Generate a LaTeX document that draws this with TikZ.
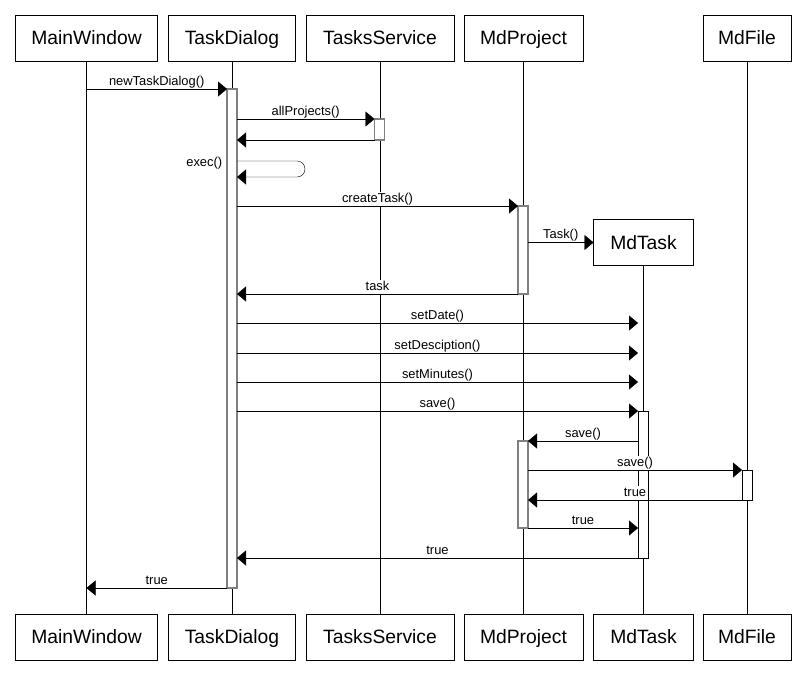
\documentclass[tikz,border=0pt]{standalone}
\usepackage{fontspec}
\setmainfont{Liberation Sans}
\usetikzlibrary{arrows.meta,positioning}

\tikzset{
  obj/.style={draw,fill=white,minimum height=46pt,inner sep=0pt,outer sep=0pt,
    text height=13.9pt,text depth=0pt,font=\fontsize{19.3}{21}\selectfont},
  act/.style={draw=gray,line width=1.3pt,fill=white,minimum width=10pt,inner sep=0pt,outer sep=0pt},
  actb/.style={draw,fill=white,minimum width=10pt,inner sep=0pt,outer sep=0pt},
  msg/.style={-{Triangle[length=9pt,width=15pt]}},
  lbl/.style={fill=white,inner sep=0.6pt,text height=9.3pt,text depth=2.8pt,
    font=\fontsize{12.9}{13}\selectfont},
}

\begin{document}
\begin{tikzpicture}[x=1pt,y=-1pt]
	\useasboundingbox (0,0) rectangle (806,683);
	% objects, head and foot
	\node[obj,minimum width=142pt](mwTop)at(86.5,38){MainWindow};
	\node[obj,minimum width=127pt](tdTop)at(232,38){TaskDialog};
	\node[obj,minimum width=148pt](tsTop)at(380,38){TasksService};
	\node[obj,minimum width=119pt](mpTop)at(523.5,38){MdProject};
	\node[obj,minimum width=100pt](mtTop)at(643.5,242.5){MdTask};
	\node[obj,minimum width=88pt](mfTop)at(747,38){MdFile};
	\node[obj,minimum width=142pt](mwBot)at(86.5,637){MainWindow};
	\node[obj,minimum width=127pt](tdBot)at(232,637){TaskDialog};
	\node[obj,minimum width=148pt](tsBot)at(380,637){TasksService};
	\node[obj,minimum width=119pt](mpBot)at(523.5,637){MdProject};
	\node[obj,minimum width=100pt](mtBot)at(643.5,637){MdTask};
	\node[obj,minimum width=88pt](mfBot)at(747,637){MdFile};
	\foreach \who in {mw,td,ts,mp,mt,mf}
		\draw(\who Top)--(\who Bot);
	% activations
	\node[act,minimum height=499pt](tdAct)at(232,338.5){};
	\node[act,minimum height=21pt](tsAct)at(379.5,129.5){};
	\node[act,minimum height=88pt](mpActA)at(523,250){};
	\node[actb,minimum height=147pt](mtAct)at(643,484.5){};
	\node[act,minimum height=87pt](mpActB)at(523,484.5){};
	\node[actb,minimum height=30pt](mfAct)at(747,485){};
	% messages
	\draw[msg](mwTop|-tdAct.north)--node[lbl,above=0.3pt](l1){newTaskDialog()}(tdAct.north west);
	\draw[msg](tdAct.east|-tsAct.north)--node[lbl,above=0.3pt](l2){allProjects()}(tsAct.north west);
	\draw[msg](tsAct.south west)--(tdAct.east|-tsAct.south);
	\draw[msg,rounded corners=8pt](tdAct.east|-0,161)--++(68,0)--++(0,16)--(tdAct.east|-0,177);
	\node[lbl,anchor=east](l3)at(223,163){exec()};
	\draw[msg](tdAct.east|-mpActA.north)--node[lbl,above=0.3pt](l4){createTask()}(mpActA.north west);
	\draw[msg](mpActA.east|-mtTop)--node[lbl,above=0.3pt](l5){Task()}(mtTop.west);
	\draw[msg](mpActA.south west)--node[lbl,above=0.3pt](l6){task}(tdAct.east|-mpActA.south);
	\draw[msg](tdAct.east|-0,323)--node[lbl,above=0.3pt](l7){setDate()}(mtAct.west|-0,323);
	\draw[msg](tdAct.east|-0,353)--node[lbl,above=0.3pt](l8){setDesciption()}(mtAct.west|-0,353);
	\draw[msg](tdAct.east|-0,382)--node[lbl,above=0.3pt](l9){setMinutes()}(mtAct.west|-0,382);
	\draw[msg](tdAct.east|-mtAct.north)--node[lbl,above=0.3pt](l10){save()}(mtAct.north west);
	\draw[msg](mtAct.west|-mpActB.north)--node[lbl,above=0.3pt](l11){save()}(mpActB.north east);
	\draw[msg](mpActB.east|-mfAct.north)--node[lbl,above=0.3pt](l12){save()}(mfAct.north west);
	\draw[msg](mfAct.south west)--node[lbl,above=0.3pt](l13){true}(mpActB.east|-mfAct.south);
	\draw[msg](mpActB.south east)--node[lbl,above=0.3pt](l14){true}(mtAct.west|-mpActB.south);
	\draw[msg](mtAct.south west)--node[lbl,above=0.3pt](l15){true}(tdAct.east|-mtAct.south);
	\draw[msg](tdAct.south west)--node[lbl,above=0.3pt](l16){true}(mwBot|-tdAct.south);
\end{tikzpicture}
\end{document}
